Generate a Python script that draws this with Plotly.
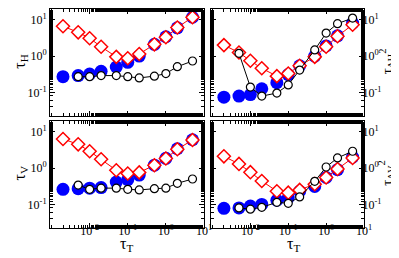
import plotly.graph_objects as go

tau_T = [0.002, 0.005, 0.01, 0.02, 0.05, 0.1, 0.2, 0.5, 1, 2, 5]
tau_T_black = [0.005, 0.01, 0.02, 0.05, 0.1, 0.2, 0.5, 1, 2, 5]

# panel (a): tau_H
H_blue = [0.27, 0.29, 0.32, 0.38, 0.5, 0.67, 1.0, 2.1, 3.4, 6.0, 11.7]
H_red = [6.6, 4.5, 3.1, 1.8, 0.95, 0.87, 1.14, 2.1, 3.3, 6.1, 11.7]
H_black = [0.27, 0.27, 0.29, 0.29, 0.27, 0.25, 0.28, 0.33, 0.51, 0.73]

# panel (b): tau_dH2
dH_blue = [0.074, 0.079, 0.087, 0.126, 0.185, 0.31, 0.54, 1.0, 1.9, 3.6, 8.1]
dH_red = [2.0, 1.25, 0.74, 0.46, 0.28, 0.33, 0.54, 0.95, 1.8, 3.5, 7.3]
dH_black = [1.19, 0.14, 0.079, 0.096, 0.16, 0.41, 1.47, 4.3, 7.8, 11.1]

# panel (c): tau_V
V_blue = [0.26, 0.27, 0.28, 0.29, 0.41, 0.48, 0.64, 1.2, 1.85, 3.4, 6.0]
V_red = [6.3, 4.5, 2.9, 1.75, 0.87, 0.71, 0.76, 1.19, 1.83, 3.3, 5.9]
V_black = [0.34, 0.26, 0.28, 0.28, 0.26, 0.25, 0.27, 0.28, 0.38, 0.5]

# panel (d): tau_dV2
dV_blue = [0.078, 0.08, 0.09, 0.1, 0.13, 0.15, 0.23, 0.31, 0.55, 0.9, 2.0]
dV_red = [2.1, 1.3, 0.77, 0.44, 0.23, 0.21, 0.25, 0.36, 0.55, 0.94, 1.9]
dV_black = [0.08, 0.074, 0.083, 0.114, 0.107, 0.16, 0.43, 1.07, 1.9, 2.9]

xtickvals = [0.01, 0.1, 1, 10]
xticktext = ["10<sup>-2</sup>", "10<sup>-1</sup>", "10<sup>0</sup>", "10<sup>1</sup>"]
ytickvals = [0.1, 1, 10]
yticktext = ["10<sup>-1</sup>", "10<sup>0</sup>", "10<sup>1</sup>"]

FONT = "Liberation Serif"
fig = go.Figure()

panels = [
    ("x", "y", H_blue, H_red, H_black),
    ("x2", "y2", dH_blue, dH_red, dH_black),
    ("x3", "y3", V_blue, V_red, V_black),
    ("x4", "y4", dV_blue, dV_red, dV_black),
]
for xa, ya, b, r, k in panels:
    fig.add_trace(go.Scatter(x=tau_T, y=b, mode="markers", xaxis=xa, yaxis=ya,
                             marker=dict(color="#0000ff", size=13, line=dict(width=0)),
                             showlegend=False))
    fig.add_trace(go.Scatter(x=tau_T, y=r, mode="lines+markers", xaxis=xa, yaxis=ya,
                             line=dict(color="#ff0000", width=1),
                             marker=dict(symbol="diamond", color="white", size=10,
                                         line=dict(color="#ff0000", width=1.5)),
                             showlegend=False))
    fig.add_trace(go.Scatter(x=tau_T_black, y=k, mode="lines+markers", xaxis=xa, yaxis=ya,
                             line=dict(color="black", width=1),
                             marker=dict(symbol="circle", color="white", size=8,
                                         line=dict(color="black", width=1.2)),
                             showlegend=False))

xdom_l = [0, 0.4904]
xdom_r = [0.5127, 1]
ydom_t = [0.5114, 1]
ydom_b = [0, 0.4886]

common_x = dict(type="log", range=[-3.04, 1.0], tickvals=xtickvals, ticktext=xticktext,
                ticks="inside", ticklen=5, tickwidth=1, tickcolor="black",
                minor=dict(ticks="inside", ticklen=3, tickcolor="black", showgrid=False),
                showline=True, linecolor="black", linewidth=1, mirror="ticks",
                showgrid=False, zeroline=False, ticklabelstandoff=-8,
                tickfont=dict(family=FONT, size=12, color="black"))
common_y = dict(type="log", range=[-1.65, 1.295], tickvals=ytickvals, ticktext=yticktext,
                ticks="inside", ticklen=5, tickwidth=1, tickcolor="black",
                minor=dict(ticks="inside", ticklen=3, tickcolor="black", showgrid=False),
                showline=True, linecolor="black", linewidth=1, mirror="ticks",
                showgrid=False, zeroline=False,
                tickfont=dict(family=FONT, size=12, color="black"))

fig.update_layout(
    width=399, height=258,
    margin=dict(l=42, r=43, t=1, b=38),
    paper_bgcolor="white", plot_bgcolor="white",
    xaxis=dict(common_x, domain=xdom_l, anchor="y", showticklabels=False),
    yaxis=dict(common_y, domain=ydom_t, anchor="x"),
    xaxis2=dict(common_x, domain=xdom_r, anchor="y2", showticklabels=False),
    yaxis2=dict(common_y, domain=ydom_t, anchor="x2", side="right", ticklabelstandoff=-5),
    xaxis3=dict(common_x, domain=xdom_l, anchor="y3"),
    yaxis3=dict(common_y, domain=ydom_b, anchor="x3"),
    xaxis4=dict(common_x, domain=xdom_r, anchor="y4"),
    yaxis4=dict(common_y, domain=ydom_b, anchor="x4", side="right", ticklabelstandoff=-5),
)

tfont = dict(family=FONT, size=16, color="black")
ann = [
    dict(text="τ<sub>H</sub>", x=-0.095, y=0.76, textangle=-90, yanchor="middle"),
    dict(text="τ<sub>V</sub>", x=-0.095, y=0.25, textangle=-90, yanchor="middle"),
    dict(text="τ<sub>ΔH</sub><sup>2</sup>", x=1.072, y=0.76, textangle=-90,
         yanchor="middle", font=dict(family=FONT, size=15, color="black")),
    dict(text="τ<sub>ΔV</sub><sup>2</sup>", x=1.072, y=0.25, textangle=-90,
         yanchor="middle", font=dict(family=FONT, size=15, color="black")),
    dict(text="τ<sub>T</sub>", x=0.245, y=-0.025, textangle=0, yanchor="top"),
    dict(text="τ<sub>T</sub>", x=0.775, y=-0.025, textangle=0, yanchor="top"),
]
for a in ann:
    a.setdefault("font", tfont)
    fig.add_annotation(xref="paper", yref="paper", showarrow=False,
                       xanchor="center", **a)

fig.write_html("out.html")
